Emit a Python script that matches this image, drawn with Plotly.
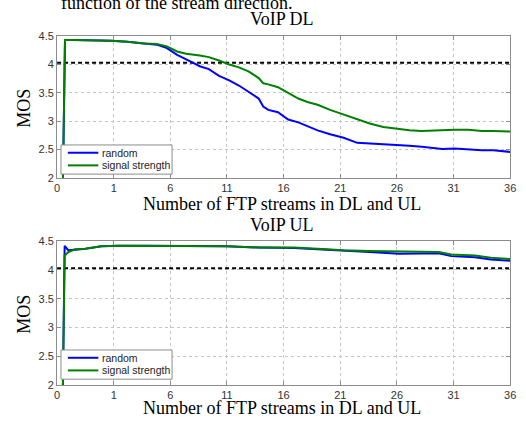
import plotly.graph_objects as go

# ---- data (x in axis position units, 0..40) ----
tick_pos = [0, 5, 10, 15, 20, 25, 30, 35, 40]
tick_labels = ["0", "1", "6", "11", "16", "21", "26", "31", "36"]

dl_x = [0.45, 0.7, 1.5, 3.0, 3.9, 4.8, 6.2, 7.65, 8.8, 9.7, 10.6, 11.4, 12.6, 13.4,
        14.3, 15.2, 16.05, 16.9, 17.8, 18.2, 18.65, 19.5, 20.4, 21.3, 22.1, 23.0,
        24.1, 25.3, 26.5, 27.6, 28.8, 29.9, 31.1, 32.2, 33.4, 34.0, 35.1, 36.3,
        37.5, 38.5, 40.0]
dl_random = [1.0, 4.43, 4.43, 4.43, 4.43, 4.42, 4.40, 4.37, 4.35, 4.29, 4.17, 4.09,
             3.97, 3.92, 3.80, 3.72, 3.63, 3.52, 3.40, 3.26, 3.20, 3.16, 3.03, 2.98,
             2.91, 2.84, 2.77, 2.71, 2.62, 2.61, 2.60, 2.59, 2.57, 2.55, 2.53, 2.51,
             2.52, 2.50, 2.49, 2.49, 2.46]
dl_signal = [1.0, 4.43, 4.43, 4.43, 4.43, 4.42, 4.40, 4.37, 4.36, 4.32, 4.23, 4.19,
             4.16, 4.13, 4.07, 4.00, 3.95, 3.88, 3.76, 3.67, 3.65, 3.60, 3.50, 3.40,
             3.34, 3.29, 3.20, 3.12, 3.03, 2.96, 2.90, 2.87, 2.84, 2.83, 2.84, 2.84,
             2.85, 2.85, 2.83, 2.83, 2.82]

ul_x = [0.45, 0.67, 1.0, 1.6, 2.5, 3.9, 5.4, 8.0, 12.0, 15.0, 17.8, 20.9, 23.8,
        25.3, 27.6, 30.2, 32.0, 33.7, 34.8, 36.9, 38.3, 40.0]
ul_random = [1.0, 4.42, 4.34, 4.35, 4.37, 4.41, 4.42, 4.42, 4.42, 4.41, 4.39, 4.38,
             4.35, 4.33, 4.31, 4.28, 4.29, 4.29, 4.24, 4.22, 4.18, 4.16]
ul_signal = [1.0, 4.25, 4.31, 4.36, 4.37, 4.41, 4.42, 4.42, 4.42, 4.41, 4.39, 4.39,
             4.36, 4.34, 4.33, 4.32, 4.32, 4.31, 4.27, 4.25, 4.21, 4.19]

series_names = ["random", "signal strength"]
threshold = 4.03
x_range = [0, 40]
y_range = [2, 4.5]

W, H = 526, 425
BLUE = "#0000ff"
GREEN = "#008000"
colors = [BLUE, GREEN]

def px_x(p):
    return p / W

def px_y(p):
    return 1 - p / H

fig = go.Figure()

panels = [
    ("x", "y", dl_x, dl_random, dl_signal),
    ("x2", "y2", ul_x, ul_random, ul_signal),
]
for xa, ya, xs, r, s in panels:
    fig.add_trace(go.Scatter(x=x_range, y=[threshold, threshold], mode="lines",
                             line=dict(color="black", width=2, dash="4px,3px"),
                             showlegend=False, xaxis=xa, yaxis=ya, hoverinfo="skip"))
    for name, vals, col in zip(series_names, [r, s], colors):
        fig.add_trace(go.Scatter(x=xs, y=vals, mode="lines", name=name,
                                 line=dict(color=col, width=2), xaxis=xa, yaxis=ya,
                                 showlegend=False))

tick_font = dict(family="Liberation Sans, Arial", size=11, color="#333333")
common_x = dict(range=x_range, tickvals=tick_pos, ticktext=tick_labels,
                showgrid=True, gridcolor="#c4c4c4", griddash="dot", gridwidth=1,
                showline=True, linecolor="#8c8c8c", linewidth=1, mirror="ticks",
                ticks="inside", ticklen=4, tickcolor="#8c8c8c",
                tickfont=tick_font, zeroline=False)
common_y = dict(range=y_range, dtick=0.5, tick0=2,
                showgrid=True, gridcolor="#c4c4c4", griddash="dot", gridwidth=1,
                showline=True, linecolor="#8c8c8c", linewidth=1, mirror="ticks",
                ticks="inside", ticklen=4, tickcolor="#8c8c8c",
                tickfont=tick_font, zeroline=False)

xd = [px_x(55), px_x(516)]

fig.update_layout(
    width=W, height=H,
    margin=dict(l=0, r=0, t=0, b=0),
    paper_bgcolor="white", plot_bgcolor="white",
    xaxis=dict(domain=xd, anchor="y", **common_x),
    yaxis=dict(domain=[px_y(177), px_y(31)], anchor="x", **common_y),
    xaxis2=dict(domain=xd, anchor="y2", **common_x),
    yaxis2=dict(domain=[px_y(390), px_y(242)], anchor="x2", **common_y),
    showlegend=False,
)

# ---- legend boxes (drawn as shapes + text) ----
for top in (143, 354):
    fig.add_shape(type="rect", xref="paper", yref="paper",
                  x0=px_x(59), x1=px_x(172), y0=px_y(top + 30), y1=px_y(top),
                  line=dict(color="#8c8c8c", width=1), fillcolor="white", layer="above")
    for i, (name, col) in enumerate(zip(series_names, colors)):
        yy = top + 8 + 13 * i
        fig.add_shape(type="line", xref="paper", yref="paper",
                      x0=px_x(66), x1=px_x(97), y0=px_y(yy), y1=px_y(yy),
                      line=dict(color=col, width=2), layer="above")
        fig.add_annotation(text=name, xref="paper", yref="paper",
                           x=px_x(99), y=px_y(yy), xanchor="left", yanchor="middle",
                           showarrow=False,
                           font=dict(family="Liberation Sans, Arial", size=10.5,
                                     color="#222222"))

serif = "Liberation Serif, Times New Roman"
ann = [
    dict(text="VoIP DL", x=px_x(284), y=px_y(13)),
    dict(text="VoIP UL", x=px_x(284), y=px_y(225)),
    dict(text="Number of FTP streams in DL and UL", x=px_x(284), y=px_y(204)),
    dict(text="Number of FTP streams in DL and UL", x=px_x(284), y=px_y(414)),
]
for a in ann:
    fig.add_annotation(xref="paper", yref="paper", showarrow=False,
                       xanchor="center", yanchor="middle",
                       font=dict(family=serif, size=18, color="black"), **a)
for yc in (105, 317):
    fig.add_annotation(text="MOS", xref="paper", yref="paper", x=px_x(21), y=px_y(yc),
                       showarrow=False, textangle=-90, xanchor="center", yanchor="middle",
                       font=dict(family=serif, size=18, color="black"))
# cut-off line of document text above the chart
fig.add_annotation(text="function of the stream direction.", xref="paper", yref="paper",
                   x=px_x(296), y=px_y(-15), xanchor="right", yanchor="top",
                   showarrow=False, font=dict(family=serif, size=18, color="black"))

fig.write_html("out.html")
